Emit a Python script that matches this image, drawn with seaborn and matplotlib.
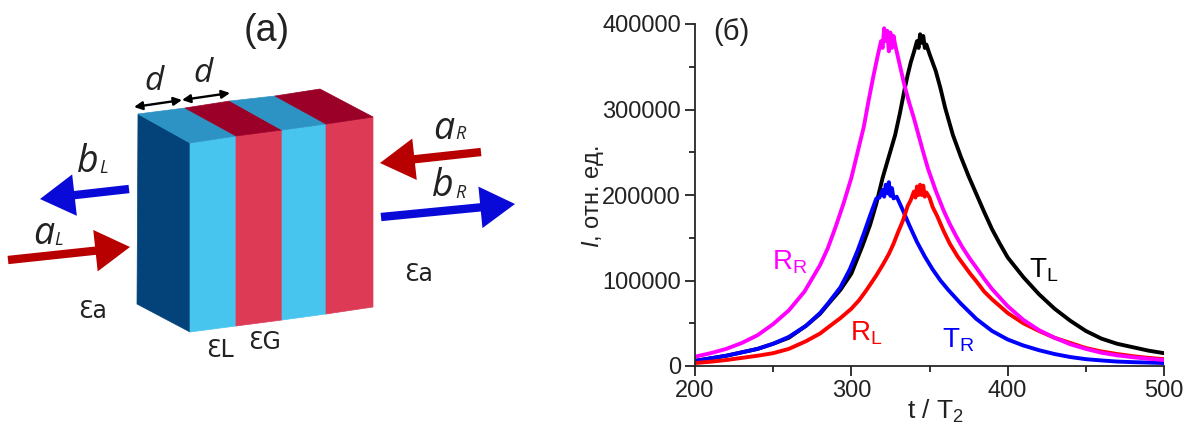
import numpy as np
import pandas as pd
import matplotlib
matplotlib.use('Agg')
import matplotlib.pyplot as plt
from matplotlib.patches import Polygon, FancyArrowPatch
import seaborn as sns

sns.set_theme(style='ticks')
plt.rcParams['font.family'] = ['Liberation Sans', 'DejaVu Sans']
plt.rcParams['mathtext.fontset'] = 'custom'
plt.rcParams['mathtext.it'] = 'Liberation Sans:italic'
plt.rcParams['mathtext.rm'] = 'Liberation Sans'

W, H = 1190, 428

# curve data
t_rr = [200, 210, 220, 230, 240, 250, 260, 270, 280, 285, 290, 295, 300, 304, 308, 311, 314, 317, 319, 320, 321, 322, 323, 324, 325, 326, 327, 328, 329, 331, 334, 337, 340, 343, 346, 349, 354, 359, 363, 367, 371, 376, 380, 385, 390, 400, 410, 420, 430, 440, 450, 460, 470, 480, 490, 500]
i_rr = [10900, 15000, 20000, 27000, 36000, 49000, 65000, 87000, 118000, 138000, 163000, 190000, 220000, 250000, 280000, 310000, 338000, 364000, 380000, 372000, 395000, 380000, 392000, 368000, 390000, 372000, 386000, 376000, 368000, 352000, 328000, 308000, 290000, 270000, 250000, 231000, 205000, 182000, 166000, 152000, 139000, 125000, 115000, 102000, 90000, 70000, 54000, 42000, 33000, 25500, 20000, 15500, 12500, 10300, 8500, 7000]
t_tl = [200, 210, 220, 230, 240, 250, 260, 271, 280, 285, 293, 300, 307, 312, 316, 320, 324, 328, 331, 334, 336, 338, 340, 342, 343, 344, 345, 346, 347, 348, 350, 354, 357, 360, 365, 370, 375, 380, 385, 390, 395, 400, 410, 420, 430, 440, 450, 460, 470, 480, 490, 500]
i_tl = [6000, 9000, 12000, 16000, 20000, 26000, 33000, 47000, 61000, 72000, 89000, 108000, 140000, 165000, 190000, 220000, 245000, 270000, 295000, 323000, 340000, 355000, 367000, 380000, 372000, 388000, 378000, 386000, 372000, 376000, 365000, 345000, 325000, 302000, 270000, 245000, 222000, 201000, 180000, 160000, 143000, 127000, 104000, 84000, 67000, 53000, 41000, 32000, 26000, 22000, 18000, 15000]
t_tr = [200, 210, 220, 230, 240, 250, 260, 271, 280, 285, 293, 299, 304, 308, 312, 316, 318, 320, 321, 322, 323, 324, 325, 326, 327, 329, 333, 337, 342, 347, 352, 357, 362, 370, 380, 390, 400, 410, 420, 430, 440, 450, 460, 470, 480, 490, 500]
i_tr = [6000, 9000, 12000, 16000, 20000, 26000, 34000, 47000, 62000, 73000, 92000, 113000, 135000, 155000, 176000, 196000, 197000, 206000, 198000, 212000, 202000, 215000, 199000, 208000, 196000, 198000, 182000, 165000, 145000, 128000, 113000, 100000, 89000, 73000, 55000, 41000, 31000, 24000, 18500, 14000, 10500, 8000, 6500, 5200, 4500, 4000, 3500]
t_rl = [200, 210, 220, 230, 240, 250, 260, 271, 280, 285, 293, 300, 305, 309, 312, 316, 320, 324, 327, 330, 333, 336, 338, 340, 341, 342, 343, 344, 345, 346, 347, 348, 350, 352, 355, 359, 363, 368, 372, 376, 380, 385, 390, 400, 410, 420, 430, 440, 450, 460, 470, 480, 490, 500]
i_rl = [3500, 5000, 7000, 9500, 12000, 15000, 20000, 29000, 38000, 45000, 56000, 67000, 77000, 87000, 95000, 106000, 118000, 131000, 143000, 157000, 170000, 187000, 194000, 204000, 197000, 210000, 200000, 212000, 200000, 211000, 198000, 203000, 197000, 186000, 175000, 158000, 143000, 128000, 118000, 108000, 99000, 87000, 78000, 62000, 50000, 41000, 33000, 27000, 21000, 17000, 14000, 11500, 9500, 8000]

x_ticks = [200, 300, 400, 500]
y_ticks = [0, 100000, 200000, 300000, 400000]

fig = plt.figure(figsize=(W / 100, H / 100), dpi=100)

# panel b
L, R, T, B = 695, 1164, 24, 366
ax = fig.add_axes([L / W, 1 - B / H, (R - L) / W, (B - T) / H])
curves = [('T_L', t_tl, i_tl, 'black'), ('T_R', t_tr, i_tr, '#0000ff'),
          ('R_L', t_rl, i_rl, '#ff0000'), ('R_R', t_rr, i_rr, '#ff00ff')]
for name, t, v, col in curves:
    df = pd.DataFrame({'t': t, 'I': v})
    sns.lineplot(data=df, x='t', y='I', color=col, lw=2.8, ax=ax, errorbar=None)
ax.set_xlim(200, 500)
ax.set_ylim(0, 400000)
ax.set_xticks(x_ticks)
ax.set_yticks(y_ticks)
ax.set_xticks([250, 350, 450], minor=True)
ax.set_yticks([50000, 150000, 250000, 350000], minor=True)
ax.tick_params(axis='both', which='major', length=7, width=1.3, labelsize=17, color='#222222', labelcolor='#222222', pad=3)
ax.tick_params(axis='both', which='minor', length=4, width=1.3, color='#222222')
ax.spines['top'].set_visible(False)
ax.spines['right'].set_visible(False)
ax.spines['left'].set_linewidth(1.3)
ax.spines['bottom'].set_linewidth(1.3)
ax.set_xlabel('')
ax.set_ylabel('')

# overlay in pixel coordinates for the schematic and the labels
ov = fig.add_axes([0, 0, 1, 1], facecolor='none')
ov.set_xlim(0, W)
ov.set_ylim(H, 0)
ov.axis('off')

faces = [
    ([(138, 114), (190, 143), (190, 332), (137, 304)], '#03437a'),
    ([(190, 143), (236, 136), (236, 326), (190, 332)], '#48c5ee'),
    ([(236, 136), (282, 130), (282, 320), (236, 326)], '#dd3a55'),
    ([(282, 130), (326, 124), (326, 314), (282, 320)], '#48c5ee'),
    ([(326, 124), (373, 117), (373, 307), (326, 314)], '#dd3a55'),
    ([(138, 114), (185, 108), (236, 136), (190, 143)], '#2c93c4'),
    ([(185, 108), (230, 101), (282, 130), (236, 136)], '#9b0028'),
    ([(230, 101), (275, 96), (326, 124), (282, 130)], '#2c93c4'),
    ([(275, 96), (320, 89), (373, 117), (326, 124)], '#9b0028'),
]
for pts, col in faces:
    ov.add_patch(Polygon(pts, closed=True, fc=col, ec=col, lw=0.5))

arrows = [
    ((8, 260), (130, 247), '#b80000'),
    ((129, 189), (40, 199), '#0a0ad8'),
    ((481, 152), (380, 163), '#b80000'),
    ((381, 217), (515, 204), '#0a0ad8'),
]
for a, b, col in arrows:
    ov.add_patch(FancyArrowPatch(a, b, arrowstyle='simple,head_width=30,head_length=25,tail_width=6',
                                 mutation_scale=1, fc=col, ec=col, lw=0, shrinkA=0, shrinkB=0))
for a, b in [((134, 107), (182, 100)), ((182, 100), (230, 93))]:
    ov.add_patch(FancyArrowPatch(a, b, arrowstyle='<|-|>', mutation_scale=12, color='black', lw=1.7, shrinkA=0, shrinkB=0))

panel_text = [
    (267, 31, '(a)', 27, '#222222'),
    (731, 32, '(б)', 21, '#222222'),
    (935, 411, 't / T$_{2}$', 19, '#222222'),
]
for x, y, s, fs, col in panel_text:
    ov.text(x, y, s, fontsize=fs, color=col, ha='center', va='center')
ov.text(593, 196, '$\\mathit{I}$, отн. ед.', fontsize=17, color='#222222', rotation=90, ha='center', va='center')

labels = [
    (790, 262, 'R$_{\\mathrm{R}}$', '#ff00ff'),
    (866, 333, 'R$_{\\mathrm{L}}$', '#ff0000'),
    (958, 340, 'T$_{\\mathrm{R}}$', '#0000ff'),
    (1044, 270, 'T$_{\\mathrm{L}}$', 'black'),
]
for x, y, s, col in labels:
    ov.text(x, y, s, fontsize=20, color=col, ha='center', va='center')

italics = [
    (154, 81, 'd', 24), (203, 73, 'd', 24),
    (444, 129, 'a', 27), (443, 186, 'b', 27),
    (88, 162, 'b', 27), (44, 234, 'a', 27),
]
for x, y, s, fs in italics:
    ov.text(x, y, s, fontsize=fs, style='italic', family='Open Sans', color='#222222', ha='center', va='center')
subs = [(460, 134, 'R'), (460, 193, 'R'), (104, 168, 'L'), (59, 240, 'L')]
for x, y, s in subs:
    ov.text(x, y, s, fontsize=13, style='italic', family='Open Sans', color='#222222', ha='center', va='center')
eps = [(93, 311, 'Ɛa'), (419, 274, 'Ɛa'), (220, 350, 'ƐL'), (265, 342, 'ƐG')]
for x, y, s in eps:
    ov.text(x, y, s, fontsize=17, family='DejaVu Sans', color='#222222', ha='center', va='center')

fig.savefig('out.png', dpi=100)
